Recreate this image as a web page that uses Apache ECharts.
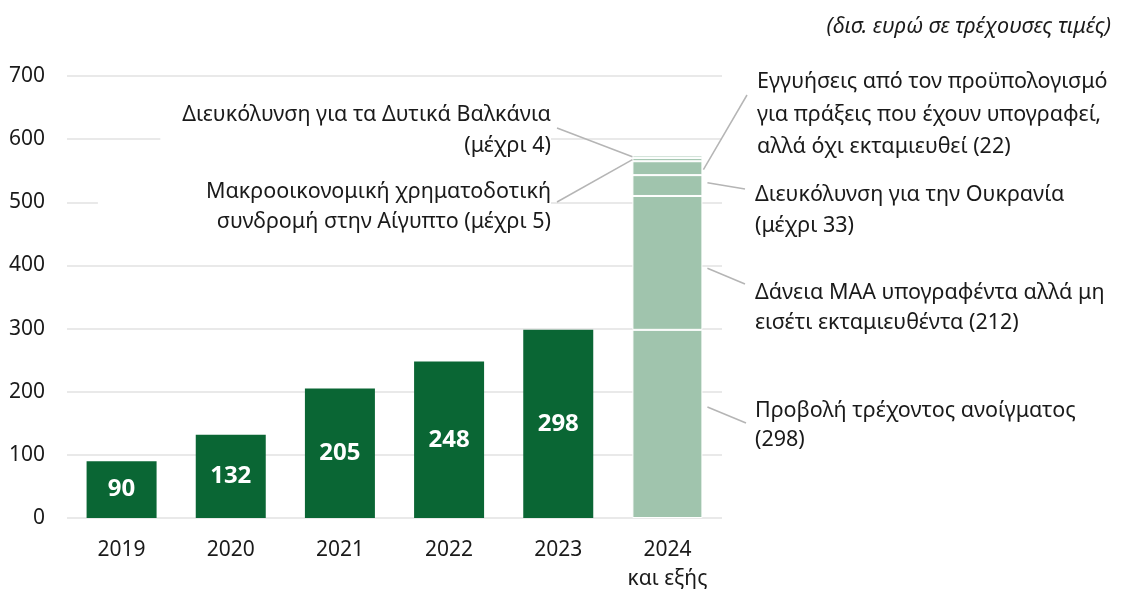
<!DOCTYPE html>
<html>
<head>
<meta charset="utf-8">
<script src="https://cdn.jsdelivr.net/npm/echarts@6/dist/echarts.min.js"></script>
<style>
  html, body { margin: 0; padding: 0; background: #fff; }
  #chart { width: 1121px; height: 589px; }
</style>
</head>
<body>
<div id="chart"></div>
<script>
// --- data ---
const categories = ['2019', '2020', '2021', '2022', '2023', '2024\nκαι εξής']
const actualValues = [90, 132, 205, 248, 298, null]
// 2024 onwards, stacked bottom -> top
const outlookValues = [298, 212, 33, 22, 5, 4]
const outlookNames = [
  'Προβολή τρέχοντος ανοίγματος\n(298)',
  'Δάνεια ΜΑΑ υπογραφέντα αλλά μη\nεισέτι εκταμιευθέντα (212)',
  'Διευκόλυνση για την Ουκρανία\n(μέχρι 33)',
  'Εγγυήσεις από τον προϋπολογισμό\nγια πράξεις που έχουν υπογραφεί,\nαλλά όχι εκταμιευθεί (22)',
  'Μακροοικονομική χρηματοδοτική\nσυνδρομή στην Αίγυπτο (μέχρι 5)',
  'Διευκόλυνση για τα Δυτικά Βαλκάνια\n(μέχρι 4)'
]
const unitNote = '(δισ. ευρώ σε τρέχουσες τιμές)'

const FONT = '"Noto Sans", "Open Sans", sans-serif'
const TEXT = '#1a1a1a'
const DARK = '#0a6634'
const LIGHT = '#a0c4ad'
const BAR_W = 70

// callout placement (pixels) - side of the bar the leader starts from,
// where along the segment it starts, and where the label sits
const callouts = [
  { side: 'right', gap: 5, at: 0.59, tx: 755, ty: 396, lh: 29, align: 'left', end: [746, 423], pad: [0, 0, 0, 0] },
  { side: 'right', gap: 5, at: 0.46, tx: 755, ty: 278, lh: 30, align: 'left', end: [745, 284], pad: [0, 0, 0, 0] },
  { side: 'right', gap: 5, at: 0.64, tx: 755, ty: 179, lh: 31, align: 'left', end: [745, 189], pad: [0, 0, 0, 0] },
  { side: 'right', gap: 1, at: 0.39, tx: 757, ty: 66, lh: 32.5, align: 'left', end: [747, 95], pad: [0, 0, 0, 0] },
  { side: 'left', gap: 0, at: 0.5, tx: 551, ty: 177, lh: 30, align: 'right', end: [557, 202], pad: [0, 0, 0, 108] },
  { side: 'left', gap: 0, at: 0.5, tx: 551, ty: 99, lh: 31, align: 'right', end: [557, 128], pad: [0, 0, 0, 22] }
]

const chart = echarts.init(document.getElementById('chart'))

const outlookSeries = outlookValues.map((v, i) => ({
  name: outlookNames[i],
  type: 'bar',
  stack: 'total',
  barWidth: BAR_W,
  data: categories.map((c, k) => (k === categories.length - 1 ? v : null)),
  itemStyle: { color: LIGHT, borderColor: '#fff', borderWidth: 1 },
  emphasis: { disabled: true }
}))

chart.setOption({
  animation: false,
  textStyle: { fontFamily: FONT },
  title: {
    text: unitNote,
    right: 5,
    top: 11,
    textStyle: { fontFamily: FONT, fontStyle: 'italic', fontWeight: 'normal', fontSize: 21.5, color: TEXT }
  },
  grid: { left: 67, right: 399, top: 76, bottom: 71, outerBoundsMode: 'none', containLabel: false },
  xAxis: {
    type: 'category',
    data: categories,
    axisLine: { show: false },
    axisTick: { show: false },
    axisLabel: { color: TEXT, fontSize: 21, lineHeight: 29, margin: 18, fontFamily: FONT }
  },
  yAxis: {
    type: 'value',
    min: 0,
    max: 700,
    interval: 100,
    axisLine: { show: false },
    axisTick: { show: false },
    axisLabel: { color: TEXT, fontSize: 21, margin: 22, fontFamily: FONT },
    splitLine: { lineStyle: { color: '#e2e2e2', width: 1.5 } }
  },
  series: [
    {
      name: 'actual',
      type: 'bar',
      stack: 'total',
      barWidth: BAR_W,
      data: actualValues,
      itemStyle: { color: DARK },
      label: {
        show: true,
        position: 'inside',
        color: '#fff',
        fontWeight: 'bold',
        fontSize: 24,
        fontFamily: FONT
      },
      emphasis: { disabled: true }
    },
    ...outlookSeries
  ]
})

// leader lines and labels, anchored through the chart's own scales
const last = categories.length - 1
const graphics = []
let base = 0
outlookValues.forEach((v, i) => {
  const c = callouts[i]
  const val = base + v * c.at
  base += v
  const p = chart.convertToPixel({ gridIndex: 0 }, [last, val])
  const x = c.side === 'left' ? p[0] - BAR_W / 2 - c.gap : p[0] + BAR_W / 2 + c.gap
  graphics.push({
    type: 'text',
    z: 1,
    style: {
      text: outlookNames[i],
      x: c.tx,
      y: c.ty,
      align: c.align,
      verticalAlign: 'top',
      fill: TEXT,
      font: '21.5px ' + FONT,
      lineHeight: c.lh,
      backgroundColor: '#fff',
      padding: c.pad
    }
  })
  graphics.push({
    type: 'line',
    z: 3,
    shape: { x1: x, y1: p[1], x2: c.end[0], y2: c.end[1] },
    style: { stroke: '#b5b5b5', lineWidth: 1.5 }
  })
})

chart.setOption({ graphic: graphics })
</script>
</body>
</html>
